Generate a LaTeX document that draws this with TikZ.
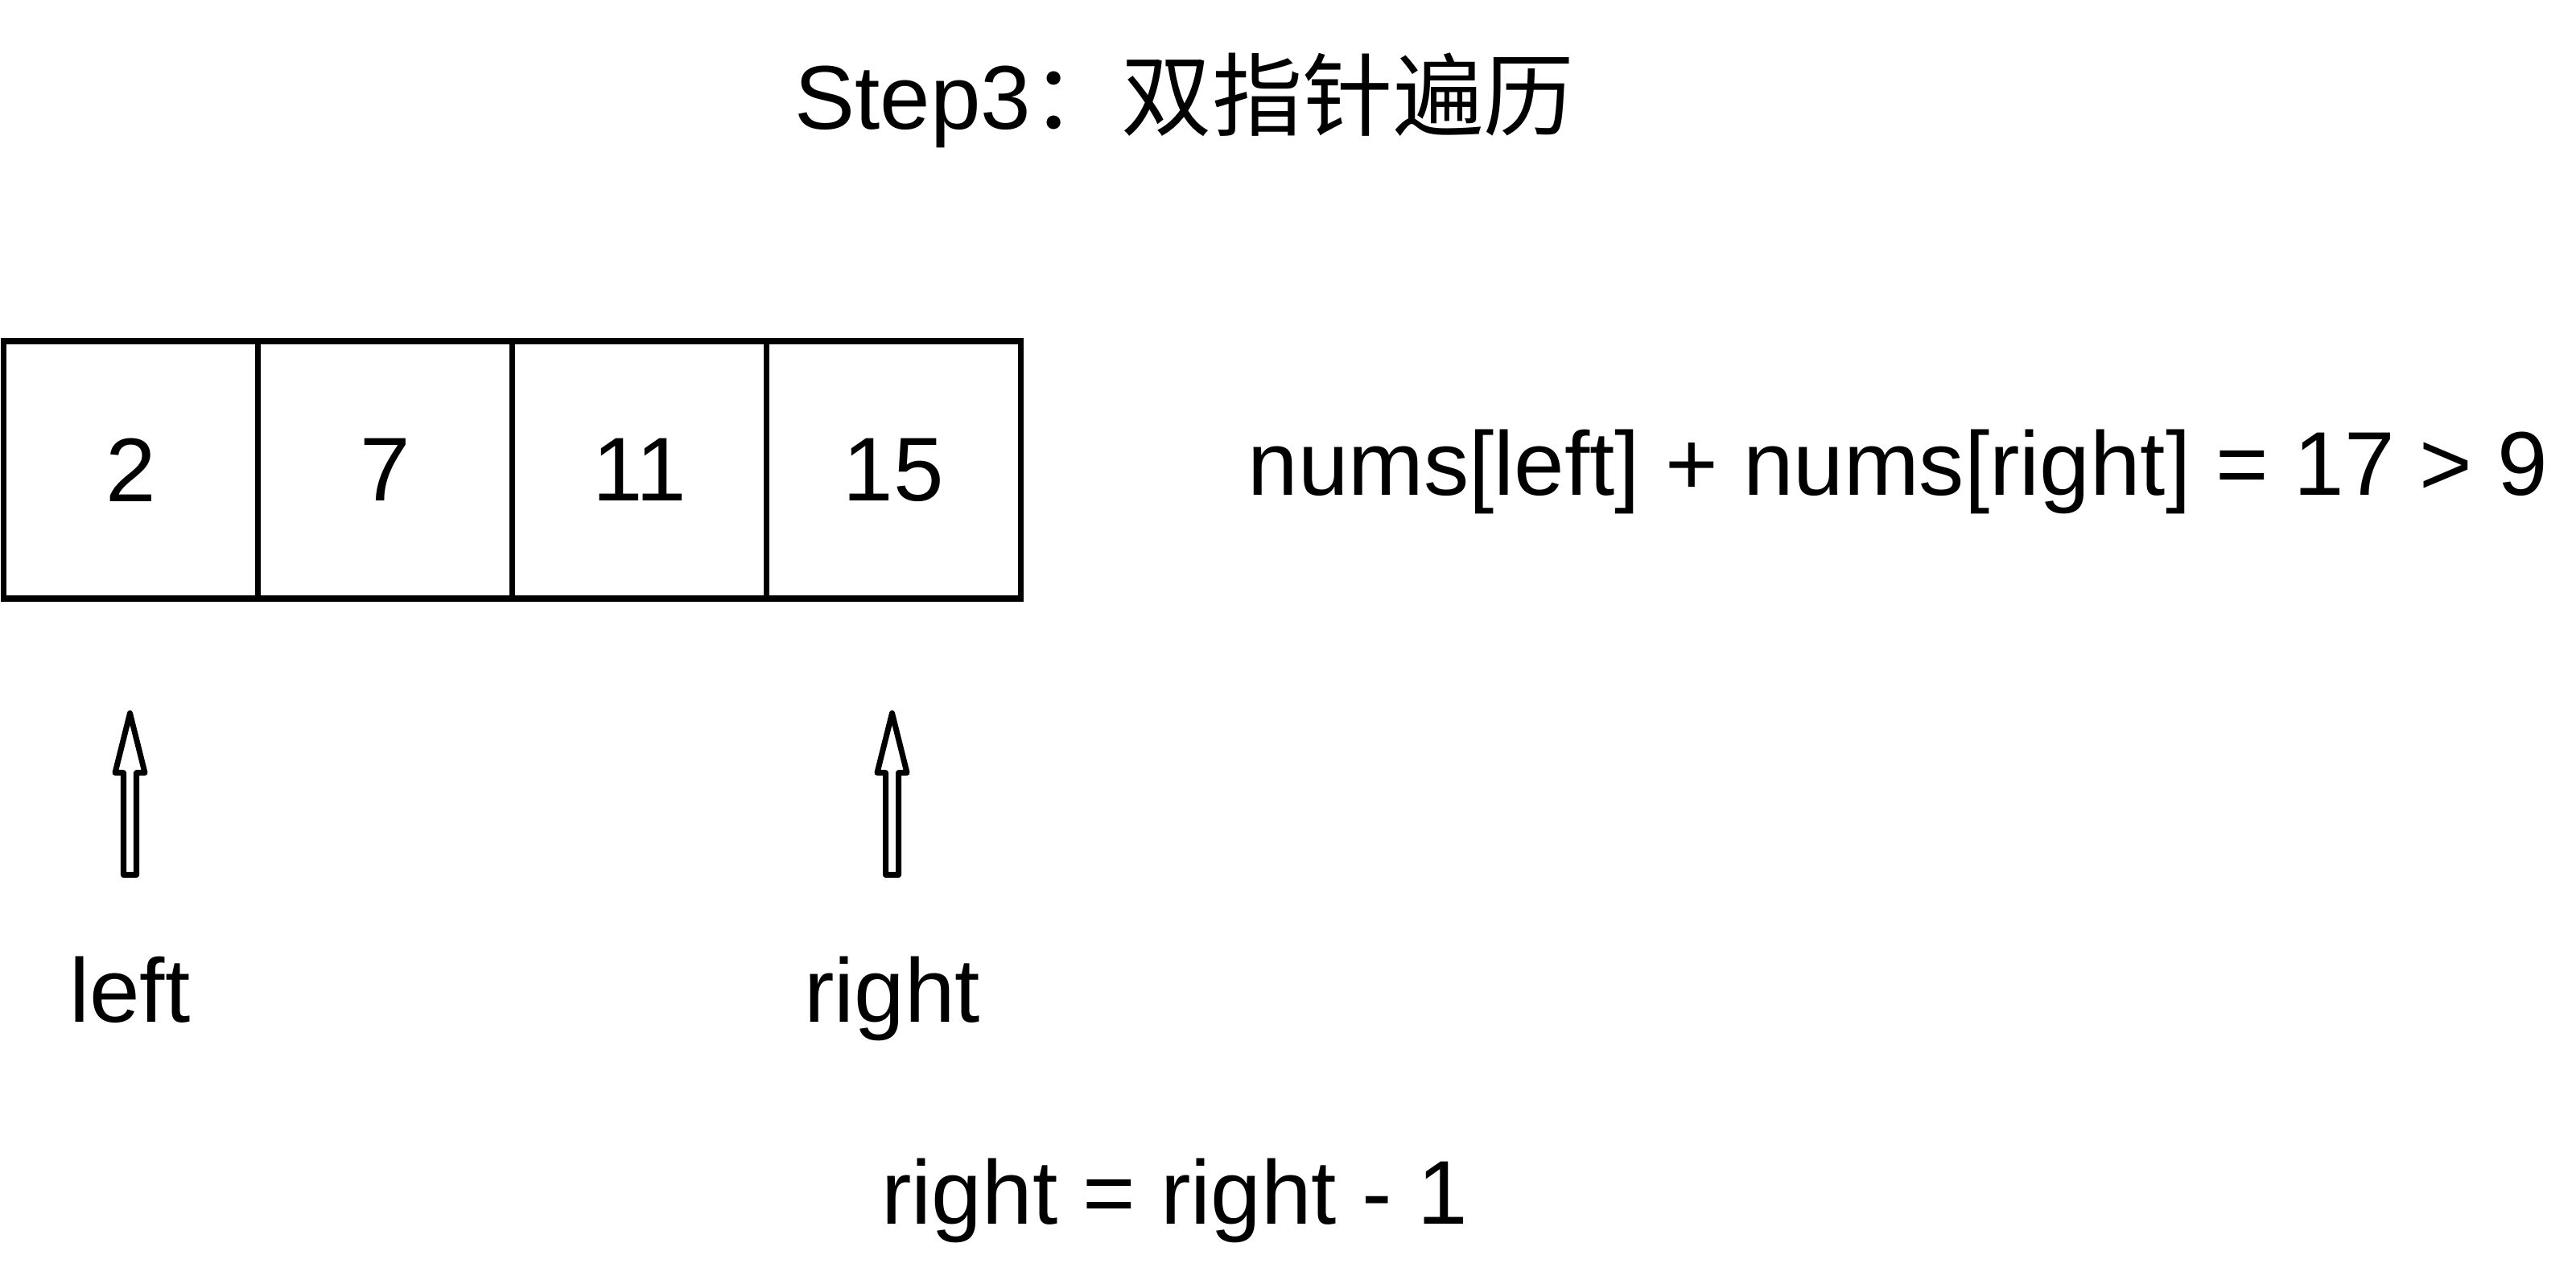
\documentclass[tikz,border=0pt]{standalone}
\usepackage{fontspec}
\setmainfont{Liberation Sans}
\newfontfamily\cjk{Noto Sans CJK SC}
\usepackage{tikz}
\usetikzlibrary{positioning}

\begin{document}
\begin{tikzpicture} [node distance=3.16cm,line width=2pt]
        \tikzstyle{cell}=[draw, inner sep = 0mm, minimum width = 3.16cm, minimum height = 3.2cm, font=\fontsize{32}{38}\selectfont]
        \tikzstyle{txt}=[inner sep = 0mm, anchor = base west, font=\fontsize{32}{38}\selectfont]
        \tikzstyle{pointer}=[draw, line join = round]
        \useasboundingbox (0,0) rectangle (32.01,15.90);

        \node[txt] (Title) at (9.84,14.29) {Step3{\cjk ：双指针遍历}};

        % the array
        \node[cell] (C1) at (1.625,10.06) {2};
        \node[cell] (C2) [right of = C1] {7};
        \node[cell] (C3) [right of = C2] {11};
        \node[cell] (C4) [right of = C3] {15};

        \node[txt] (Sum) at (15.47,9.74) {nums[left] + nums[right] = 17 > 9};

        % pointers
        \coordinate (LeftTip) at ([xshift=-0.01cm,yshift=-1.39cm]C1.south);
        \coordinate (RightTip) at ([xshift=-0.02cm,yshift=-1.39cm]C4.south);
        \foreach \tip in {LeftTip, RightTip}
          \draw[pointer] (\tip) -- ++(0.185,-0.74) -- ++(-0.105,0) -- ++(0,-1.27) -- ++(-0.16,0)
            -- ++(0,1.27) -- ++(-0.105,0) -- cycle;

        \node[txt, anchor = base] (LeftName) at ([yshift=-3.84cm]LeftTip) {left};
        \node[txt, anchor = base] (RightName) at ([yshift=-3.84cm]RightTip) {right};

        \node[txt] (Update) at (10.92,0.69) {right = right - 1};
      \end{tikzpicture}
\end{document}
